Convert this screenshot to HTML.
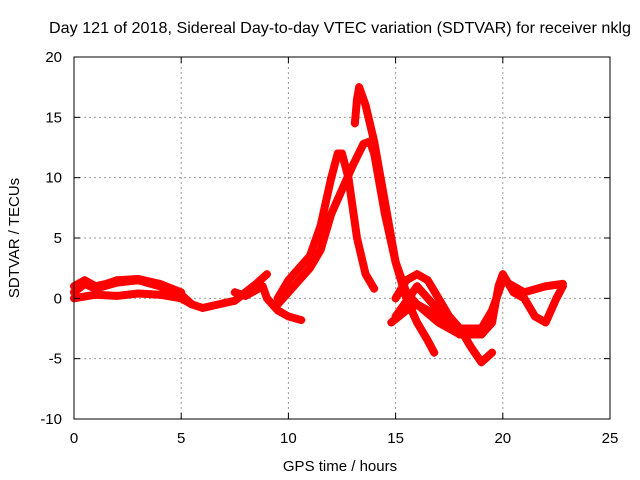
<!DOCTYPE html>
<html><head><meta charset="utf-8"><style>
body{margin:0;background:#fff;}
svg{display:block;font-family:"Liberation Sans",sans-serif;}
</style></head><body>
<svg id="chart" width="640" height="480">
<text x="340" y="33" font-size="16" text-anchor="middle" fill="#000" textLength="582" lengthAdjust="spacingAndGlyphs">Day 121 of 2018, Sidereal Day-to-day VTEC variation (SDTVAR) for receiver nklg</text>
<g id="grid"></g><g id="series"></g>
<rect x="74" y="57" width="536" height="362" fill="none" stroke="#000" stroke-width="1"/>
<g id="ticks"></g>
<text x="340" y="471" font-size="15" text-anchor="middle">GPS time / hours</text>
<text transform="translate(19,238) rotate(-90)" font-size="15" text-anchor="middle">SDTVAR / TECUs</text>
</svg>
<script>
const xTicks=[0,5,10,15,20,25];
const yTicks=[-10,-5,0,5,10,15,20];
const s1=[[0,0.5],[0.5,1.2],[1,0.8],[2,1.3],[3,1.5],[4,1.0],[5,0.3],[5.5,-0.5],[6,-0.8],[7,-0.4],[7.5,-0.2],[8,0.5],[8.5,1.2],[9,2]];
const s2=[[0,0],[1,0.3],[2,0.2],[3,0.4],[4,0.3],[5,0],[5.5,-0.5]];
const s3=[[0,1],[0.5,1.5],[1,1],[1.5,1.2],[2,1.5],[3,1.6],[4,1.2],[5,0.5]];
const s4=[[9.5,0],[10,1.5],[10.5,2.5],[11,3.5],[11.5,6],[12,10],[12.3,12],[12.5,12],[12.8,10],[13.2,5],[13.6,2],[14,0.8]];
const s5=[[9.5,-0.5],[10,0.5],[10.5,1.5],[11,2.5],[11.5,4],[12,7],[12.5,9],[13,11],[13.5,12.8],[13.8,13],[14,12],[14.5,7],[15,3],[15.5,0],[16,-2],[16.5,-3.5],[16.8,-4.5]];
const s6=[[13.1,14.5],[13.2,16.5],[13.3,17.5],[13.6,16],[14,13],[14.3,10],[14.8,5],[15,3],[15.5,0.5],[16,-0.5],[17,-2],[18,-3],[19,-3],[19.5,-2]];
const s7=[[14.8,-2],[15.5,-1],[16,-0.5],[17,-1.5],[18,-2.5],[18.5,-4],[19,-5.3],[19.5,-4.5]];
const s8=[[15,0],[15.5,1.5],[16,2],[16.5,1.5],[17,0],[17.5,-1.5],[18,-2.5],[19,-2.5],[19.5,-1],[20,1.5],[20.5,1],[21,0.5],[22,1],[22.8,1.2]];
const s9=[[15,-1.5],[16,1],[17,-1],[18,-3],[19,-3],[19.5,-2],[19.8,1],[20,2],[20.5,0.5],[21,0],[21.5,-1.5],[22,-2],[22.5,0],[22.8,1]];
const s10=[[7.5,0.5],[8,0.2],[8.8,1],[9,0],[9.5,-1],[10,-1.5],[10.6,-1.8]];
const allSeries=[s1,s2,s3,s4,s5,s6,s7,s8,s9,s10];
const X=v=>74+v*536/25, Y=v=>419-(v+10)*362/30;
const NS="http://www.w3.org/2000/svg";
const grid=document.getElementById('grid'),ticks=document.getElementById('ticks'),ser=document.getElementById('series');
function mk(tag,at,parent){const e=document.createElementNS(NS,tag);for(const k in at)e.setAttribute(k,at[k]);parent.appendChild(e);return e;}
xTicks.forEach(t=>{const x=X(t);
 if(t>0&&t<25){const g=mk('line',{x1:x,x2:x,y1:57,y2:419,stroke:'#999','stroke-dasharray':'2,3'},grid);
 
 }
 const l=mk('text',{x:x,y:443,'font-size':15,'text-anchor':'middle'},ticks);l.textContent=t;
 
 
 mk('line',{x1:x,x2:x,y1:419,y2:413,stroke:'#000'},ticks);mk('line',{x1:x,x2:x,y1:57,y2:63,stroke:'#000'},ticks);});
yTicks.forEach(t=>{const y=Y(t);
 if(t>-10&&t<20){const g=mk('line',{x1:74,x2:610,y1:y,y2:y,stroke:'#999','stroke-dasharray':'2,3'},grid);
 
 }
 const l=mk('text',{x:62,y:y+5,'font-size':15,'text-anchor':'end'},ticks);l.textContent=t;
 
 
 mk('line',{x1:74,x2:80,y1:y,y2:y,stroke:'#000'},ticks);mk('line',{x1:610,x2:604,y1:y,y2:y,stroke:'#000'},ticks);});
allSeries.forEach((s,i)=>{
 const p=mk('polyline',{points:s.map(d=>X(d[0])+','+Y(d[1])).join(' '),fill:'none',stroke:'#f00','stroke-width':8,'stroke-linejoin':'round','stroke-linecap':'round'},ser);
 
 
 s.forEach(d=>{const x=X(d[0]),y=Y(d[1]);
  const m=mk('path',{d:`M${x-4},${y}h8M${x},${y-4}v8`,stroke:'#f00','stroke-width':1.5},ser);
  
  });
});
</script>
</body></html>
